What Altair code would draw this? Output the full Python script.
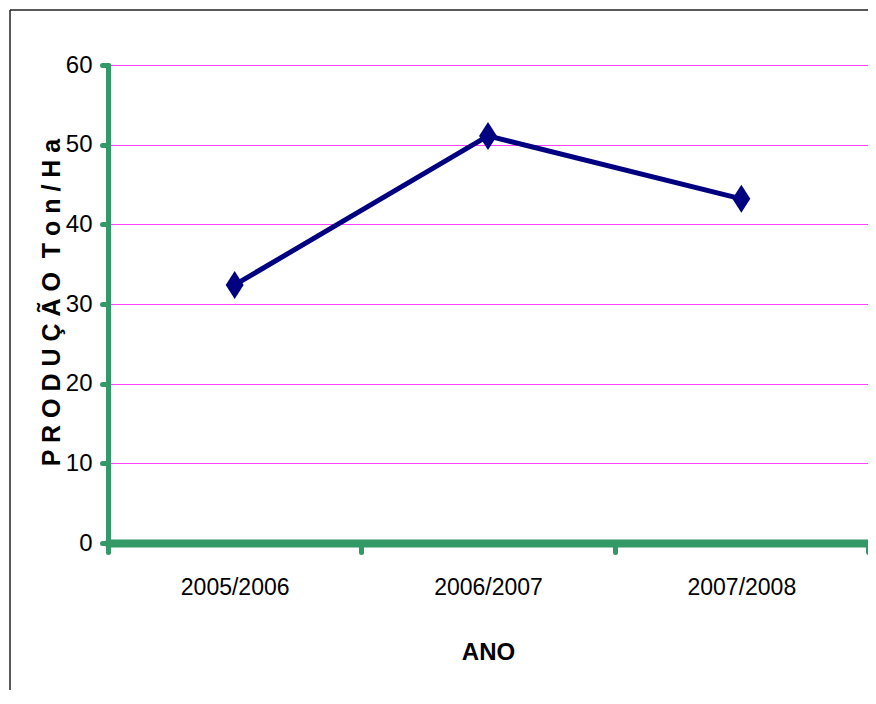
import altair as alt
import pandas as pd

anos = ["2005/2006", "2006/2007", "2007/2008"]
producao = [32.4, 51.1, 43.2]
y_ticks = [0, 10, 20, 30, 40, 50, 60]

df = pd.DataFrame({"ano": anos, "prod": producao})

FONT = "Liberation Sans"
GREEN = "#339966"
NAVY = "#000080"

x_enc = alt.X(
    "ano:N",
    sort=anos,
    scale=alt.Scale(type="band", paddingInner=0, paddingOuter=0),
    axis=alt.Axis(
        title="ANO", labelAngle=0, tickBand="extent", grid=False,
        domainColor=GREEN, domainWidth=8, domainCap="round",
        tickColor=GREEN, tickWidth=5, tickSize=9, tickCap="round",
        labelFont=FONT, labelFontSize=23, labelColor="black", labelPadding=24,
        titleFont=FONT, titleFontSize=24, titleFontWeight="bold", titleColor="black",
        titleX=380, titleY=109, titleBaseline="middle", titleAlign="center",
    ),
)

y_enc = alt.Y(
    "prod:Q",
    scale=alt.Scale(domain=[0, 60]),
    axis=alt.Axis(
        values=y_ticks, title="P R O D U Ç Ã O\u00a0 T o n / H a", grid=True,
        gridColor="#FF44FF", gridWidth=1,
        domainColor=GREEN, domainWidth=5, domainCap="round",
        tickColor=GREEN, tickWidth=5, tickSize=6, tickCap="round",
        labelFont=FONT, labelFontSize=24, labelColor="black", labelPadding=10,
        titleFont=FONT, titleFontSize=25, titleFontWeight="bold", titleColor="black",
        titleX=-57, titleY=237, titleBaseline="middle", titleAlign="center",
    ),
)

frame_df = pd.DataFrame({"k": [0]})
frame_left = alt.Chart(frame_df).mark_rule(color="#222222", strokeWidth=1.5).encode(
    x=alt.value(-98), y=alt.value(-55), y2=alt.value(1200)
)
frame_top = alt.Chart(frame_df).mark_rule(color="#222222", strokeWidth=1.5).encode(
    x=alt.value(-98), x2=alt.value(1200), y=alt.value(-55)
)

base = alt.Chart(df).encode(x=x_enc, y=y_enc)

line = base.mark_line(color=NAVY, strokeWidth=5)
points = base.mark_point(
    shape="M0,-1L0.64,0L0,1L-0.64,0Z", filled=True, size=784, color=NAVY, opacity=1
)

chart = alt.layer(frame_left, frame_top, line, points).properties(
    width=760,
    height=478,
    autosize=alt.AutoSizeParams(type="none"),
    padding={"left": 100, "top": 57, "right": 0, "bottom": 147},
).configure_view(stroke=None)

chart.save("out.html", embed_options={"renderer": "svg", "actions": False})
